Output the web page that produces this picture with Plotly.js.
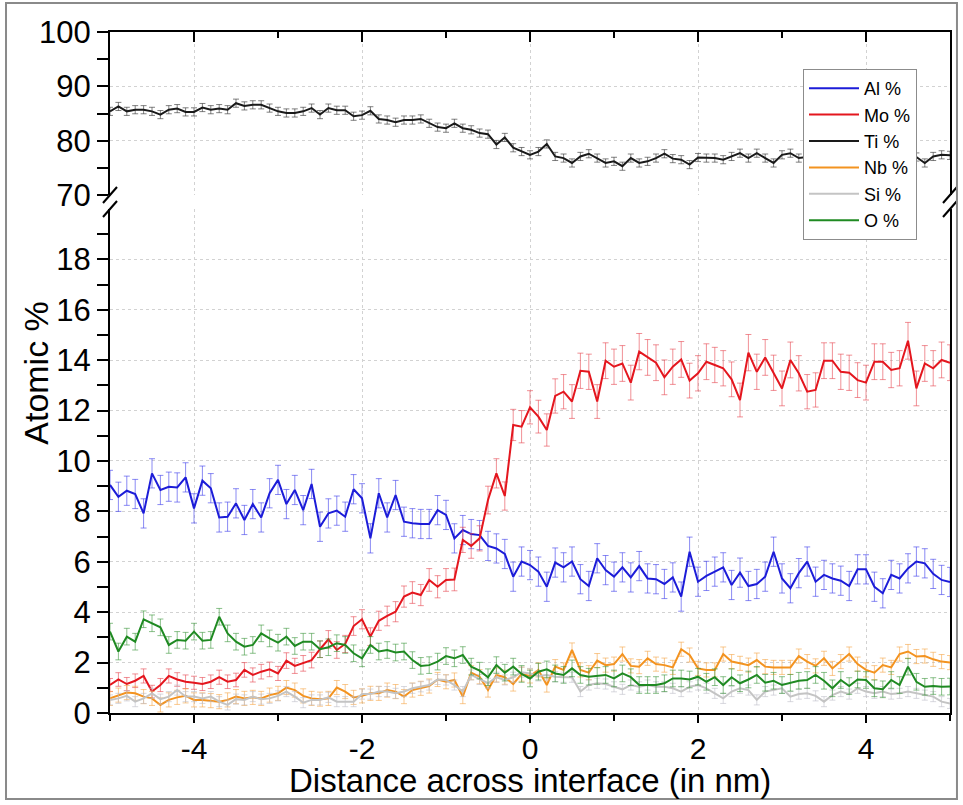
<!DOCTYPE html>
<html>
<head>
<meta charset="utf-8">
<script src="https://cdn.plot.ly/plotly-3.0.1.min.js"></script>
<style>
html,body{margin:0;padding:0;background:#fff;}
#chart{width:963px;height:805px;}
</style>
</head>
<body>
<div id="chart"></div>
<script>
// Distance across interface (nm)
const distance = [-5,-4.9,-4.8,-4.7,-4.6,-4.5,-4.4,-4.3,-4.2,-4.1,-4,-3.9,-3.8,-3.7,-3.6,-3.5,-3.4,-3.3,-3.2,-3.1,-3,-2.9,-2.8,-2.7,-2.6,-2.5,-2.4,-2.3,-2.2,-2.1,-2,-1.9,-1.8,-1.7,-1.6,-1.5,-1.4,-1.3,-1.2,-1.1,-1,-0.9,-0.8,-0.7,-0.6,-0.5,-0.4,-0.3,-0.2,-0.1,0,0.1,0.2,0.3,0.4,0.5,0.6,0.7,0.8,0.9,1,1.1,1.2,1.3,1.4,1.5,1.6,1.7,1.8,1.9,2,2.1,2.2,2.3,2.4,2.5,2.6,2.7,2.8,2.9,3,3.1,3.2,3.3,3.4,3.5,3.6,3.7,3.8,3.9,4,4.1,4.2,4.3,4.4,4.5,4.6,4.7,4.8,4.9,5];

const al = [9.05,8.58,8.82,8.69,7.92,9.51,8.85,8.98,8.95,9.35,8.12,9.22,8.92,7.76,7.79,8.32,7.66,8.29,7.76,8.72,9.25,8.29,8.85,8.05,9.09,7.39,7.92,8.03,7.79,8.88,8.52,6.93,8.72,7.76,8.65,7.59,7.53,7.50,7.50,8.05,7.86,6.93,7.26,7.10,7.06,6.63,6.53,6.31,5.41,6.01,
5.87,5.61,5.01,5.97,5.78,6.01,5.31,5.04,6.14,5.67,5.41,5.78,5.38,5.83,5.34,5.31,5.12,5.38,4.62,6.40,5.21,5.44,5.61,5.78,5.08,5.57,5.04,5.12,5.41,6.40,5.34,4.95,5.55,6.01,5.21,5.48,5.34,5.25,5.04,5.70,5.70,5.01,4.75,5.48,5.34,5.74,6.01,5.94,5.52,5.28,5.2];

const mo = [1.11,1.33,1.15,1.28,1.47,0.85,1.11,1.47,1.33,1.24,1.20,1.15,1.24,1.42,1.24,1.31,1.71,1.51,1.64,1.73,1.57,2.08,1.87,1.97,2.10,2.53,2.92,2.50,2.74,3.45,3.72,3.03,3.66,3.85,4.02,4.62,4.78,4.68,
5.28,5.01,5.28,5.30,6.87,6.63,6.93,8.45,9.51,8.61,11.43,
11.36,12.13,11.76,11.23,12.58,12.75,12.36,13.58,13.54,12.36,13.98,13.74,13.87,13.11,14.34,14.11,13.90,13.32,13.74,14.03,13.19,13.48,13.94,13.81,13.68,13.24,12.42,14.30,13.54,14.11,13.50,12.88,14.01,13.48,12.75,12.82,13.98,13.98,13.54,13.50,13.21,13.11,13.94,13.94,13.61,13.68,14.77,12.88,13.87,13.68,14.01,13.9];

const ti = [85.4,86.3,85.4,85.7,85.7,85.4,84.8,85.7,85.9,85.3,85.3,86.1,85.7,85.9,85.7,86.9,86.4,86.6,86.6,86.0,85.4,85.1,85.1,85.4,86.0,84.8,86.0,85.6,85.6,84.5,84.7,85.5,84.0,83.8,83.4,83.8,83.8,84.0,83.2,82.5,82.3,83.2,82.3,82.0,81.4,81.2,
79.3,80.6,78.7,78.0,77.4,78.0,79.4,
77.1,76.8,75.9,77.1,77.6,76.8,75.9,76.2,75.3,76.8,75.9,76.2,76.8,77.6,76.7,76.5,75.6,76.9,76.8,76.8,76.5,77.1,77.7,76.8,77.7,76.8,75.9,77.4,77.7,76.8,
77.0,76.5,77.2,76.8,77.0,76.4,77.3,76.9,76.6,77.2,76.8,77.1,76.5,77.0,
75.9,77.1,77.4,77.3];

const nb = [0.58,0.71,0.81,0.78,0.65,0.58,0.32,0.52,0.62,0.68,0.52,0.52,0.49,0.45,0.52,0.65,0.58,0.62,0.58,0.71,0.78,1.01,0.91,0.68,0.58,0.55,0.58,1.01,0.85,0.62,0.68,0.78,0.78,0.91,0.85,0.65,0.91,0.98,1.07,1.33,1.24,1.31,0.65,1.60,1.44,0.91,1.51,1.42,1.15,1.54,
1.47,1.71,1.11,1.84,1.71,2.50,1.71,1.60,2.08,1.90,1.94,2.34,1.87,1.84,2.17,1.94,1.90,1.81,2.53,2.30,1.77,1.71,1.71,2.34,2.04,1.97,1.90,2.10,1.84,1.81,1.81,1.81,2.26,2.04,1.87,2.17,1.77,2.04,2.34,1.94,1.71,1.60,1.90,1.81,2.34,2.44,2.24,2.26,2.13,2.04,2.0];

const si = [0.52,0.58,0.68,0.45,0.58,0.78,0.55,0.65,0.91,0.65,0.65,0.58,0.65,0.45,0.32,0.55,0.52,0.65,0.55,0.58,0.68,0.85,0.65,0.41,0.52,0.52,0.62,0.45,0.45,0.45,0.75,0.75,0.85,0.85,0.78,0.85,0.98,1.04,1.11,1.33,1.31,1.11,0.85,1.51,1.33,1.18,1.42,1.31,1.42,1.62,
1.57,1.47,1.51,1.44,1.42,1.42,0.85,1.11,1.18,1.15,1.04,0.94,1.11,1.04,1.11,1.04,1.04,0.98,0.85,1.04,1.11,0.98,0.78,0.58,0.85,0.98,0.91,0.52,0.85,0.91,0.98,0.65,0.75,0.78,0.68,0.45,0.71,0.85,0.75,0.98,0.85,0.78,0.85,0.75,0.78,0.85,0.78,0.71,0.65,0.45,0.38];

const ox = [3.23,2.44,3.03,2.83,3.72,3.56,3.40,2.70,2.90,2.87,3.23,2.87,2.90,3.82,3.16,2.83,2.63,2.70,3.16,2.96,2.79,3.03,2.66,2.83,2.83,2.53,2.61,2.77,2.70,2.37,2.17,2.70,2.44,2.50,2.40,2.44,2.10,1.87,1.90,2.04,2.26,2.17,2.30,1.84,1.68,1.42,1.90,1.60,1.84,1.55,
1.37,1.64,1.73,1.57,1.51,1.77,1.51,1.44,1.47,1.51,1.37,1.57,1.42,1.11,1.11,1.11,1.18,1.37,1.37,1.33,1.44,1.24,1.42,1.11,1.42,1.18,1.33,1.51,1.20,1.28,1.11,1.20,1.28,1.31,1.51,1.28,0.98,1.31,1.07,1.33,1.31,0.98,0.94,1.31,1.11,1.84,1.24,1.04,1.07,1.04,1.05];

// error bar half-widths
const errMo = [0.26,0.27,0.26,0.27,0.28,0.25,0.26,0.28,0.27,0.27,0.26,0.26,0.27,0.28,0.27,0.27,0.29,0.28,0.29,0.29,0.28,0.31,0.30,0.31,0.31,0.33,0.35,0.33,0.34,0.37,0.38,0.35,0.38,0.39,0.40,0.42,0.43,0.42,0.45,0.44,0.45,0.45,0.50,0.49,0.50,0.55,0.58,0.56,0.62,
0.64,0.66,0.65,0.64,0.68,0.68,0.67,0.70,0.70,0.67,0.71,0.70,0.71,0.69,0.72,0.71,0.71,0.69,0.70,0.71,0.69,0.70,0.71,0.70,0.70,0.69,0.67,0.72,0.70,0.71,0.70,0.69,0.71,0.70,0.68,0.68,0.71,0.71,0.70,0.70,0.69,0.69,0.71,0.71,0.70,0.70,0.73,0.69,0.71,0.70,0.71,0.71];
const errAl = 0.58, errTi = 0.75, errNb = 0.28, errSi = 0.2, errO = 0.33;

// axis ticks
const xTicks = [-4,-2,0,2,4];
const xTickText = ['-4','-2','0','2','4'];
const xMinor = [-5,-3,-1,1,3,5];
const yLowTicks = [0,2,4,6,8,10,12,14,16,18];
const yLowMinor = [1,3,5,7,9,11,13,15,17,19];
const yHighTicks = [70,80,90,100];
const yHighMinor = [75,85,95];
const yHighGrid = [80,90];

const FONT = '"Liberation Sans", Arial, Helvetica, sans-serif';

function series(name, y, err, color, errColor, yaxis, xaxis) {
  const e = Array.isArray(err)
    ? {type:'data', array: err, visible:true}
    : {type:'constant', value: err, visible:true};
  e.color = errColor; e.thickness = 1; e.width = 3;
  return {
    type:'scatter', mode:'lines', name: name,
    x: distance, y: y, xaxis: xaxis || 'x', yaxis: yaxis,
    line:{color: color, width: 2},
    error_y: e, hoverinfo:'x+y+name'
  };
}

const traces = [
  series('Al %', al, errAl, '#1c1cd8', 'rgba(60,60,235,0.6)', 'y'),
  series('Mo %', mo, errMo, '#e4161e', 'rgba(230,70,80,0.6)', 'y'),
  series('Ti %', ti, errTi, '#1a1a1a', 'rgba(60,60,60,0.65)', 'y2', 'x2'),
  series('Nb %', nb, errNb, '#f39320', 'rgba(245,165,70,0.6)', 'y'),
  series('Si %', si, errSi, '#c4c4c4', 'rgba(190,190,200,0.6)', 'y'),
  series('O %', ox, errO, '#1f8a22', 'rgba(60,150,60,0.6)', 'y'),
  // carrier for the top-panel gridlines (invisible)
  {type:'scatter', mode:'lines', x: distance, y: ti, xaxis:'x2', yaxis:'y3',
   line:{width:0, color:'rgba(0,0,0,0)'}, showlegend:false, hoverinfo:'skip'}
];

const axLine = {showline:true, linecolor:'#000', linewidth:2, zeroline:false, tickcolor:'#000', tickwidth:2};
const grid = {showgrid:true, gridcolor:'#d2d2d2', gridwidth:1, griddash:'dot'};

const yB0 = 0, yB1 = 0.7401, yT0 = 0.7606, yT1 = 1;
const dx = 7/840, dy = 8/681;
function slash(x, y){
  return {type:'line', xref:'paper', yref:'paper', x0:x-dx, y0:y-dy, x1:x+dx, y1:y+dy,
          line:{color:'#000', width:2}};
}

const layout = {
  width:963, height:805,
  margin:{l:110, r:13, t:32, b:92, pad:0},
  paper_bgcolor:'#ffffff', plot_bgcolor:'#ffffff',
  font:{family:FONT, color:'#000', size:30},
  showlegend:true,
  legend:{x:0.825, y:0.9457, xanchor:'left', yanchor:'top', bgcolor:'#ffffff',
          bordercolor:'#8c8c8c', borderwidth:1, font:{family:FONT, size:18, color:'#000'},
          tracegroupgap:0, itemwidth:50},
  xaxis:Object.assign({domain:[0,1], anchor:'y', range:[-5,5], tickmode:'array', tickvals:xTicks, ticktext:xTickText,
          ticks:'outside', ticklen:8, tickfont:{size:30},
          minor:{tickmode:'array', tickvals:xMinor, ticks:'outside', ticklen:6, tickwidth:2, tickcolor:'#000', showgrid:false}}, axLine, grid),
  xaxis2:Object.assign({domain:[0,1], anchor:'y2', matches:'x', side:'top', range:[-5,5], tickmode:'array', tickvals:xTicks,
          showticklabels:false, ticks:'inside', ticklen:10,
          minor:{tickmode:'array', tickvals:xMinor, ticks:'inside', ticklen:6, tickwidth:2, tickcolor:'#000', showgrid:false}}, axLine, grid),
  yaxis:Object.assign({domain:[yB0,yB1], anchor:'x', range:[0,20], tickmode:'array', tickvals:yLowTicks,
          ticks:'outside', ticklen:11, mirror:true, tickfont:{size:31},
          minor:{tickmode:'array', tickvals:yLowMinor, ticks:'outside', ticklen:11, tickwidth:2, tickcolor:'#000', showgrid:false}}, axLine, grid),
  yaxis2:Object.assign({domain:[yT0,yT1], anchor:'x2', range:[70,100], tickmode:'array', tickvals:yHighTicks,
          ticks:'outside', ticklen:11, mirror:true, tickfont:{size:31}, showgrid:false,
          minor:{tickmode:'array', tickvals:yHighMinor, ticks:'outside', ticklen:11, tickwidth:2, tickcolor:'#000', showgrid:false}}, axLine),
  yaxis3:Object.assign({overlaying:'y2', anchor:'x2', range:[70,100], tickmode:'array', tickvals:yHighGrid,
          showticklabels:false, ticks:'', showline:false, zeroline:false}, grid),
  annotations:[
    {text:'Atomic %', xref:'paper', yref:'paper', x:-0.089, y:0.5, xanchor:'center', yanchor:'middle',
     textangle:-90, showarrow:false, font:{family:FONT, size:34, color:'#000'}},
    {text:'Distance across interface (in nm)', xref:'paper', yref:'paper', x:0.5, y:-0.0995,
     xanchor:'center', yanchor:'middle', showarrow:false, font:{family:FONT, size:33, color:'#000'}}
  ],
  shapes:[
    slash(0, yT0), slash(0, yB1), slash(1, yT0), slash(1, yB1),
    {type:'rect', xref:'paper', yref:'paper', x0:-0.1238, x1:1.0083, y0:-0.1263, y1:1.0426,
     line:{color:'#8a8a8a', width:2}, fillcolor:'rgba(0,0,0,0)', layer:'above'}
  ]
};

Plotly.newPlot('chart', traces, layout, {staticPlot:true, displayModeBar:false});
</script>
</body>
</html>
